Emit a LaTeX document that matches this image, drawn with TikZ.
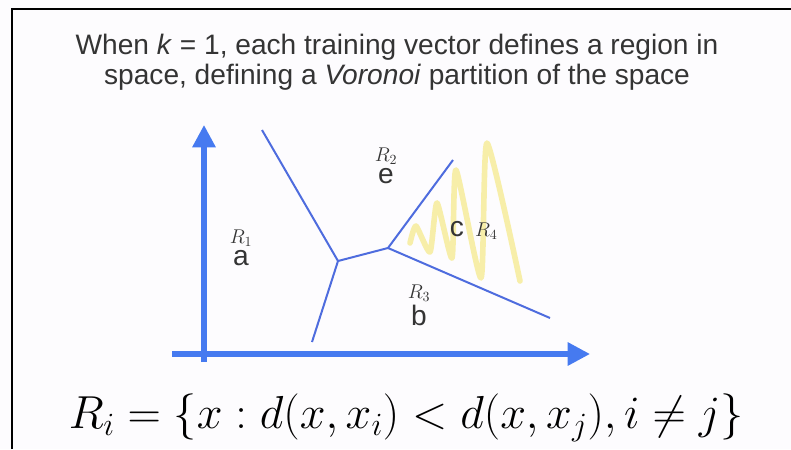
\RequirePackage{fix-cm}
\documentclass[tikz,border=0pt]{standalone}
\usepackage{amsmath}
\usepackage{fontspec}
\setmainfont{Liberation Sans}
\usepackage{tikz}
\usetikzlibrary{arrows.meta}
\usetikzlibrary{positioning}
\definecolor{axisblue}{RGB}{70,122,240}
\definecolor{cellblue}{RGB}{78,108,222}
\definecolor{marker}{RGB}{246,236,155}
\definecolor{slidegray}{RGB}{52,52,52}
\definecolor{slidebg}{RGB}{253,252,254}

\begin{document}
\begin{tikzpicture}[
x=0.03cm, y=-0.03cm,
axis/.style={line width=4.3pt, axisblue, -{Triangle[length=19pt, width=19pt]}},
cell/.style={line width=1.7pt, cellblue},
point/.style={font=\fontsize{24}{26}\selectfont, text=slidegray, inner sep=0},
region/.style={font=\fontsize{17}{19}\selectfont, text=slidegray, inner sep=0}
]
\useasboundingbox (0,0) rectangle (791,449);
\fill[slidebg] (0,0) rectangle (791,449);
\draw[line width=2pt] (12,449) -- (12,9) -- (791,9);
\node[point, align=center] (title) at (397,62)
  {When \textit{k} = 1, each training vector defines a region in\\
   space, defining a \textit{Voronoi} partition of the space};
% axes
\coordinate (ybot) at (204,362);
\coordinate (ytop) at (204,125);
\coordinate (xleft) at (172,354);
\coordinate (xright) at (590,354);
\draw[axis] (ybot) -- (ytop);
\draw[axis] (xleft) -- (xright);
% cell borders
\coordinate (v1) at (338,261);
\coordinate (v2) at (388,248);
\coordinate (n1) at (262,130);
\coordinate (s1) at (312,342);
\coordinate (n2) at (453,160);
\coordinate (e2) at (550,318);
\draw[cell] (n1) -- (v1) -- (v2);
\draw[cell] (v1) -- (s1);
\draw[cell] (v2) -- (n2);
\draw[cell] (v2) -- (e2);
\draw[marker, line width=4.8pt, line cap=round, line join=round, opacity=0.85]
  plot[smooth, tension=0.35] coordinates {(410,243) (416,226) (430,252) (437,203)
  (452,258) (456,170) (481,278) (487,143) (520,281)};
% points and regions
\node[point] (a) at (241,258) {a};
\node[region, above=3pt of a] (r1) {$R_1$};
\node[point] (e) at (386,176) {e};
\node[region, above=3pt of e] (r2) {$R_2$};
\node[point] (b) at (419,315) {b};
\node[region, above=2pt of b] (r3) {$R_3$};
\node[point] (c) at (457,229) {c};
\node[region, base right=9pt of c] (r4) {$R_4$};
\node[font=\fontsize{39.5}{42}\selectfont, inner sep=0] (rule) at (406,418)
  {$R_i = \{x : d(x,x_i) < d(x,x_j), i \neq j\}$};
\end{tikzpicture}
\end{document}
